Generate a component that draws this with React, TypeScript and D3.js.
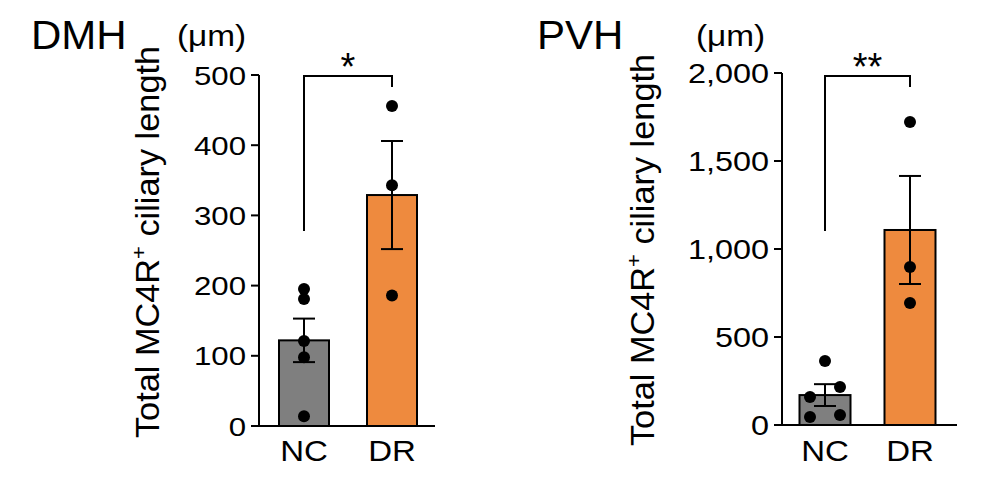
import * as d3 from "d3";

// group labels
const groups = ["NC", "DR"];

// DMH panel (µm)
const dmhMeans = [122, 329];
const dmhSems = [31, 77];
const dmhDots = [
  [195, 181, 121, 98, 14],
  [456, 343, 186],
];
const dmhSides = [
  [0, 0, 0, 0, 0],
  [0, 0, 0],
];
const dmhTicks = [0, 100, 200, 300, 400, 500];

// PVH panel
const pvhMeans = [170, 1108];
const pvhSems = [62, 307];
const pvhDots = [
  [364, 216, 159, 57, 45],
  [1722, 898, 693],
];
const pvhSides = [
  [0, 1, -1, 1, -1],
  [0, 0, 0],
];
const pvhTicks = [0, 500, 1000, 1500, 2000];

const barColors = ["#7f7f7f", "#ee8a3e"];
const font = "Liberation Sans, Arial, Helvetica, sans-serif";

type PanelProps = {
  title: string;
  stars: string;
  means: number[];
  sems: number[];
  dots: number[][];
  sides: number[][];
  ticks: number[];
  tickSize: number;
  titleX: number;
  unitX: number;
  labelX: number;
  labelY: number;
  axisX: number;
  xEnd: number;
  yTop: number;
  yBottom: number;
  centers: [number, number];
  barW: number;
};

const Panel = (p: PanelProps) => {
  const y = d3
    .scaleLinear()
    .domain([0, d3.max(p.ticks) as number])
    .range([p.yBottom, p.yTop]);
  const x = d3.scalePoint<string>().domain(groups).range(p.centers);
  const fmt = d3.format(",");
  const bracketTop = 76;

  return (
    <g fontFamily={font} fill="#000">
      <text
        transform={`translate(${p.titleX},49) scale(1.05,1)`}
        fontSize={40}
      >
        {p.title}
      </text>
      <text
        transform={`translate(${p.unitX},46) scale(1.15,1)`}
        fontSize={29}
      >
        (μm)
      </text>
      <text
        transform={`translate(${p.labelX},${p.labelY}) rotate(-90) scale(1.04,1)`}
        fontSize={33}
        textAnchor="middle"
      >
        Total MC4R
        <tspan fontSize={21} dy={-13}>
          +
        </tspan>
        <tspan dy={13}> ciliary length</tspan>
      </text>

      {/* y axis */}
      <line
        x1={p.axisX}
        x2={p.axisX}
        y1={y(d3.max(p.ticks) as number)}
        y2={y(0)}
        stroke="#000"
        strokeWidth={2}
      />
      {p.ticks.map((t) => (
        <g key={t}>
          <line
            x1={p.axisX - 8}
            x2={p.axisX}
            y1={y(t)}
            y2={y(t)}
            stroke="#000"
            strokeWidth={2}
          />
          <text
            transform={`translate(${p.axisX - 13},${y(t) + 9.5}) scale(1.2,1)`}
            fontSize={p.tickSize}
            textAnchor="end"
          >
            {fmt(t)}
          </text>
        </g>
      ))}

      {/* bars */}
      {groups.map((g, i) => (
        <rect
          key={g}
          x={(x(g) as number) - p.barW / 2}
          y={y(p.means[i])}
          width={p.barW}
          height={y(0) - y(p.means[i])}
          fill={barColors[i]}
          stroke="#000"
          strokeWidth={2}
        />
      ))}

      {/* x axis */}
      <line
        x1={p.axisX - 8}
        x2={p.xEnd}
        y1={y(0)}
        y2={y(0)}
        stroke="#000"
        strokeWidth={2}
      />
      {groups.map((g) => (
        <text
          key={g}
          transform={`translate(${x(g)},461) scale(1.1,1)`}
          fontSize={30}
          textAnchor="middle"
        >
          {g}
        </text>
      ))}

      {/* error bars */}
      {groups.map((g, i) => {
        const cx = x(g) as number;
        const lo = y(p.means[i] - p.sems[i]);
        const hi = y(p.means[i] + p.sems[i]);
        return (
          <g key={g} stroke="#000" strokeWidth={2}>
            <line x1={cx} x2={cx} y1={lo} y2={hi} />
            <line x1={cx - 11} x2={cx + 11} y1={lo} y2={lo} />
            <line x1={cx - 11} x2={cx + 11} y1={hi} y2={hi} />
          </g>
        );
      })}

      {/* individual points */}
      {groups.map((g, i) =>
        p.dots[i].map((v, j) => (
          <circle
            key={`${g}${j}`}
            cx={(x(g) as number) + p.sides[i][j] * 15}
            cy={y(v)}
            r={6}
            fill="#000"
          />
        ))
      )}

      {/* significance bracket */}
      <path
        d={`M${x("NC")},231V${bracketTop}H${x("DR")}V87`}
        fill="none"
        stroke="#000"
        strokeWidth={2}
      />
      <text
        x={((x("NC") as number) + (x("DR") as number)) / 2}
        y={80}
        fontSize={38}
        textAnchor="middle"
      >
        {p.stars}
      </text>
    </g>
  );
};

export default function App() {
  return (
    <svg
      width={1000}
      height={487}
      style={{ position: "absolute", left: 0, top: 0, background: "#fff" }}
    >
      <Panel
        title="DMH"
        stars="*"
        means={dmhMeans}
        sems={dmhSems}
        dots={dmhDots}
        sides={dmhSides}
        ticks={dmhTicks}
        tickSize={26}
        titleX={31}
        unitX={177}
        labelX={159}
        labelY={242}
        axisX={259}
        xEnd={435}
        yTop={75}
        yBottom={426}
        centers={[304, 392]}
        barW={50}
      />
      <Panel
        title="PVH"
        stars="**"
        means={pvhMeans}
        sems={pvhSems}
        dots={pvhDots}
        sides={pvhSides}
        ticks={pvhTicks}
        tickSize={27}
        titleX={537}
        unitX={696}
        labelX={654}
        labelY={250}
        axisX={782}
        xEnd={957}
        yTop={73}
        yBottom={425}
        centers={[825, 910]}
        barW={51}
      />
    </svg>
  );
}
